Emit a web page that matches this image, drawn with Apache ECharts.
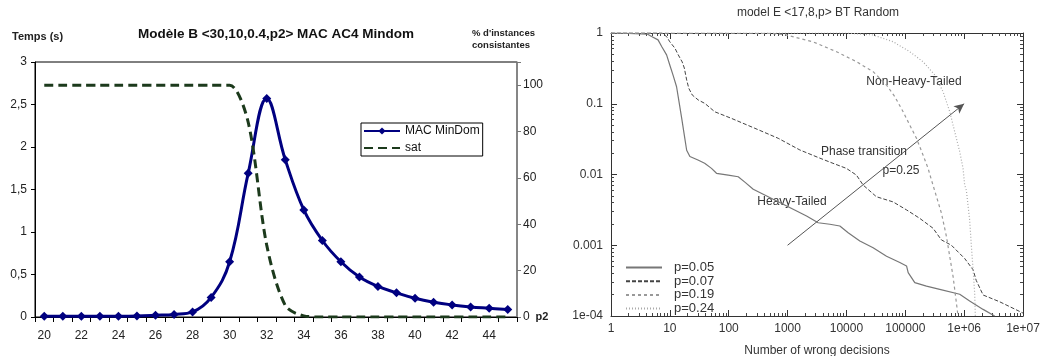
<!DOCTYPE html>
<html>
<head>
<meta charset="utf-8">
<script src="https://cdn.jsdelivr.net/npm/echarts@6/dist/echarts.min.js"></script>
<style>
  html, body { margin: 0; background: #fff; }
  #chart { width: 1045px; height: 356px; }
</style>
</head>
<body>
<div id="chart"></div>
<script>
// left chart: Modèle B <30,10,0.4,p2>
var p2Values = [20, 21, 22, 23, 24, 25, 26, 27, 28, 29, 30, 31, 32, 33, 34, 35, 36, 37, 38, 39, 40, 41, 42, 43, 44, 45];
var macMinDom = [0.01, 0.01, 0.01, 0.01, 0.01, 0.012, 0.02, 0.03, 0.06, 0.23, 0.65, 1.69, 2.57, 1.85, 1.26, 0.9, 0.65, 0.47, 0.36, 0.285, 0.22, 0.174, 0.142, 0.119, 0.103, 0.087];
var satPct = [100, 100, 100, 100, 100, 100, 100, 100, 100, 100, 100, 84, 31, 5, 0.5, 0, 0, 0, 0, 0, 0, 0, 0, 0, 0, 0];

// right chart: model E <17,8,p> BT Random  ([wrong decisions, fraction])
var p005 = [[1, 1], [2, 0.99], [4.2, 0.96], [4.9, 0.89], [6.3, 0.8], [7.3, 0.64], [8.8, 0.49], [10, 0.35], [11.4, 0.25], [13, 0.174], [14.3, 0.107], [15.9, 0.062], [17.6, 0.036], [19.3, 0.022], [21.9, 0.018], [30, 0.016], [39, 0.0144], [51, 0.0122], [62, 0.0104], [98, 0.0098], [145, 0.0093], [188, 0.0078], [261, 0.0062], [570, 0.00446], [1245, 0.00322], [2100, 0.00259], [3310, 0.00208], [5230, 0.00198], [7730, 0.00187], [10700, 0.0015], [16900, 0.00115], [28400, 0.00092], [48000, 0.0007], [80700, 0.00057], [105000, 0.00051], [112000, 0.00041], [145000, 0.000296], [229000, 0.000265], [385000, 0.000238], [841000, 0.000203], [1240000, 0.000163], [2100000, 0.000124], [3300000, 0.0001]];
var p007 = [[1, 1], [4.9, 1], [7.3, 1], [8.8, 0.89], [10, 0.75], [12.2, 0.61], [13.9, 0.49], [16.2, 0.39], [17.6, 0.32], [19.3, 0.217], [21, 0.165], [24, 0.133], [30.4, 0.113], [39.4, 0.101], [58, 0.077], [112, 0.062], [278, 0.045], [693, 0.0325], [1620, 0.0222], [3550, 0.017], [5900, 0.0144], [10000, 0.0122], [14800, 0.0098], [19200, 0.0071], [32300, 0.00485], [62000, 0.0041], [105000, 0.00316], [176000, 0.0024], [296000, 0.00174], [411000, 0.00119], [608000, 0.001], [1020000, 0.00065], [1420000, 0.00045], [1600000, 0.00032], [2100000, 0.000198], [4000000, 0.000159], [10000000, 0.00011]];
var p019 = [[1, 1], [500, 0.99], [900, 0.95], [2720, 0.75], [6790, 0.544], [14800, 0.393], [28400, 0.284], [48000, 0.184], [66400, 0.126], [91900, 0.077], [119000, 0.05], [155000, 0.0325], [200000, 0.0189], [244000, 0.0122], [278000, 0.0084], [339000, 0.00486], [412000, 0.00283], [501000, 0.00132], [570000, 0.00069], [649000, 0.00036], [741000, 0.00015], [787000, 0.0001]];
var p024 = [[1, 1], [10000, 1], [28400, 0.937], [62100, 0.753], [119000, 0.544], [200000, 0.393], [317000, 0.255], [438000, 0.148], [570000, 0.077], [693000, 0.04], [841000, 0.021], [958000, 0.0122], [1020000, 0.0071], [1090000, 0.006], [1240000, 0.00228], [1330000, 0.00095], [1420000, 0.00045], [1510000, 0.00021], [1550000, 0.0001]];
var arrowFrom = [1000, 0.001];
var arrowTo = [1000000, 0.1];

var xTickLabels = ['1', '10', '100', '1000', '10000', '100000', '1e+06', '1e+07'];
var yTickLabels = ['1', '0.1', '0.01', '0.001', '1e-04'];

var FONT = 'Liberation Sans, Arial, sans-serif';

function minorTicks(fromExp, toExp) {
  var out = [];
  for (var e = fromExp; e < toExp; e++) {
    for (var m = 2; m <= 9; m++) out.push(m * Math.pow(10, e));
  }
  return out;
}
var minorX = minorTicks(0, 7);
var minorY = minorTicks(-4, 0);

// onZero must be off, a log axis has no zero to sit on
function logAxisX(pos, withLabels, minor) {
  return {
    gridIndex: 1, type: 'log', logBase: 10, min: 1, max: 1e7, splitNumber: 7, position: pos,
    axisLine: { show: !minor, onZero: false, lineStyle: { color: '#333', width: 1 } },
    axisTick: minor
      ? { show: true, inside: true, length: 3, customValues: minorX, lineStyle: { color: '#444' } }
      : { show: true, inside: true, length: 6, lineStyle: { color: '#333' } },
    axisLabel: {
      show: withLabels, margin: 7, fontSize: 12, color: '#333', fontFamily: FONT,
      formatter: function (v) { return xTickLabels[Math.round(Math.log10(v))]; }
    },
    splitLine: { show: false }
  };
}
function logAxisY(pos, withLabels, minor) {
  return {
    gridIndex: 1, type: 'log', logBase: 10, min: 1e-4, max: 1, splitNumber: 4, position: pos,
    axisLine: { show: !minor, onZero: false, lineStyle: { color: '#333', width: 1 } },
    axisTick: minor
      ? { show: true, inside: true, length: 3, customValues: minorY, lineStyle: { color: '#444' } }
      : { show: true, inside: true, length: 6, lineStyle: { color: '#333' } },
    axisLabel: {
      show: withLabels, margin: 8, fontSize: 12, color: '#333', fontFamily: FONT,
      formatter: function (v) { return yTickLabels[-Math.round(Math.log10(v))]; }
    },
    splitLine: { show: false }
  };
}

var chart = echarts.init(document.getElementById('chart'), null, { renderer: 'canvas' });

var xBottom = logAxisX('bottom', true, false);
xBottom.name = 'Number of wrong decisions';
xBottom.nameLocation = 'middle';
xBottom.nameGap = 29;
xBottom.nameTextStyle = { fontSize: 12, color: '#333', fontFamily: FONT };

function txt(x, y, text, font, fill, align) {
  return {
    type: 'text', x: x, y: y,
    style: { text: text, font: font, fill: fill || '#222', align: align || 'center', verticalAlign: 'middle' }
  };
}

var noSymbol = { opacity: 0 };

var option = {
  animation: false,
  backgroundColor: '#fff',
  textStyle: { fontFamily: FONT },
  grid: [
    { left: 35, top: 62, width: 482, height: 255, show: true, borderColor: '#000', borderWidth: 1, backgroundColor: '#fff', outerBoundsMode: 'none' },
    { left: 611, top: 33, width: 412, height: 283, show: false, outerBoundsMode: 'none' }
  ],
  xAxis: [
    {
      gridIndex: 0, type: 'category', data: p2Values.map(String), boundaryGap: true,
      axisLine: { show: true, lineStyle: { color: '#000', width: 1 } },
      axisTick: { show: true, interval: 0, length: 5, lineStyle: { color: '#000' } },
      axisLabel: { interval: 1, margin: 13, fontSize: 12, color: '#222', fontFamily: FONT },
      name: 'p2', nameLocation: 'end', nameGap: -2,
      nameTextStyle: { fontSize: 11, fontWeight: 'bold', color: '#222', fontFamily: FONT, padding: [32, 0, 0, 0] }
    },
    xBottom,
    logAxisX('top', false, false),
    logAxisX('bottom', false, true),
    logAxisX('top', false, true)
  ],
  yAxis: [
    {
      gridIndex: 0, type: 'value', min: 0, max: 3, interval: 0.5, position: 'left',
      axisLine: { show: true, lineStyle: { color: '#000', width: 1 } },
      axisTick: { show: true, length: 4, lineStyle: { color: '#000' } },
      axisLabel: { margin: 8, fontSize: 12, color: '#222', fontFamily: FONT,
        formatter: function (v) { return String(v).replace('.', ','); } },
      splitLine: { show: false }
    },
    {
      gridIndex: 0, type: 'value', min: 0, max: 110, interval: 20, position: 'right',
      axisLine: { show: true, lineStyle: { color: '#888', width: 1.5 } },
      axisTick: { show: true, length: 4, lineStyle: { color: '#777' } },
      axisLabel: { margin: 6, fontSize: 12, color: '#222', fontFamily: FONT,
        formatter: function (v) { return v > 100 ? '' : String(v); } },
      splitLine: { show: false }
    },
    logAxisY('left', true, false),
    logAxisY('right', false, false),
    logAxisY('left', false, true),
    logAxisY('right', false, true)
  ],
  legend: [
    {
      data: ['MAC MinDom', { name: 'sat', itemStyle: noSymbol }], orient: 'vertical', left: 361, top: 123,
      padding: [2, 3, 2, 2], itemWidth: 36, itemHeight: 9, itemGap: 5,
      borderColor: '#000', borderWidth: 1, backgroundColor: '#fff',
      textStyle: { fontSize: 12, color: '#111', fontFamily: FONT, lineHeight: 12 }
    },
    {
      data: [
        { name: 'p=0.05', itemStyle: noSymbol },
        { name: 'p=0.07', itemStyle: noSymbol },
        { name: 'p=0.19', itemStyle: noSymbol },
        { name: 'p=0.24', itemStyle: noSymbol }
      ],
      orient: 'vertical', left: 625, top: 261,
      padding: 0, itemWidth: 36, itemHeight: 8, itemGap: 0.7,
      textStyle: { fontSize: 13, color: '#333', fontFamily: FONT, lineHeight: 11, padding: [0, 0, 0, 7] }
    }
  ],
  graphic: [
    txt(12, 37, 'Temps (s)', 'bold 11px ' + FONT, '#222', 'left'),
    txt(276, 34, 'Modèle B <30,10,0.4,p2> MAC AC4 Mindom', 'bold 13.5px ' + FONT, '#111'),
    txt(472, 33, "% d'instances", 'bold 9.5px ' + FONT, '#222', 'left'),
    txt(472, 45, 'consistantes', 'bold 9.5px ' + FONT, '#222', 'left'),
    txt(818, 13, 'model E <17,8,p> BT Random', '12px ' + FONT, '#333'),
    txt(914, 82, 'Non-Heavy-Tailed', '12px ' + FONT, '#333'),
    txt(864, 152, 'Phase transition', '12px ' + FONT, '#333'),
    txt(901, 171, 'p=0.25', '12px ' + FONT, '#333'),
    txt(792, 202, 'Heavy-Tailed', '12px ' + FONT, '#333')
  ],
  series: [
    {
      name: 'MAC MinDom', type: 'line', xAxisIndex: 0, yAxisIndex: 0, data: macMinDom,
      smooth: 0.4, symbol: 'diamond', symbolSize: 9, color: '#000080',
      lineStyle: { width: 3, color: '#000080' }, itemStyle: { color: '#000080' }
    },
    {
      name: 'sat', type: 'line', xAxisIndex: 0, yAxisIndex: 1, data: satPct,
      smooth: 0.3, symbol: 'none', color: '#1c3a1c',
      lineStyle: { width: 3, color: '#1c3a1c', type: [9, 5] }
    },
    {
      name: 'p=0.05', type: 'line', xAxisIndex: 1, yAxisIndex: 2, data: p005,
      symbol: 'none', color: '#777', lineStyle: { width: 1.2, color: '#777' },
      markLine: {
        silent: true, symbol: ['none', 'arrow'], symbolSize: [7, 10],
        lineStyle: { color: '#555', width: 1, type: 'solid' }, label: { show: false },
        data: [[{ coord: arrowFrom }, { coord: arrowTo }]]
      }
    },
    {
      name: 'p=0.07', type: 'line', xAxisIndex: 1, yAxisIndex: 2, data: p007,
      symbol: 'none', color: '#444', lineStyle: { width: 1, color: '#444', type: [4, 2] }
    },
    {
      name: 'p=0.19', type: 'line', xAxisIndex: 1, yAxisIndex: 2, data: p019,
      symbol: 'none', color: '#999', lineStyle: { width: 1.2, color: '#999', type: [3, 3] }
    },
    {
      name: 'p=0.24', type: 'line', xAxisIndex: 1, yAxisIndex: 2, data: p024,
      symbol: 'none', color: '#aaa', lineStyle: { width: 1.2, color: '#aaa', type: [1, 2] }
    }
  ]
};

chart.setOption(option);
</script>
</body>
</html>
